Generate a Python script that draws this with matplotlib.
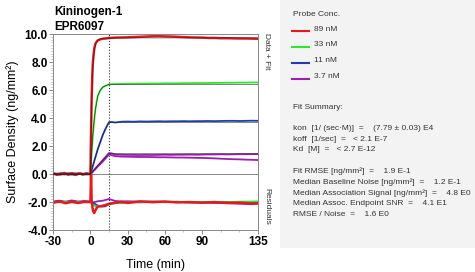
import matplotlib.pyplot as plt
import matplotlib.patches as patches
from matplotlib.ticker import MultipleLocator

plt.rcParams['font.family'] = ['Liberation Sans', 'DejaVu Sans']
plt.rcParams['axes.unicode_minus'] = False

# time grid for the sensorgrams (min)
t = [-30, -27, -24, -21, -18, -15, -12, -9, -6, -3, 0,
     0.5, 1, 1.5, 2, 3, 4, 5, 6, 8, 10, 12, 14, 15,
     17, 20, 25, 30, 35, 40, 45, 50, 55, 60, 65, 70, 75, 80, 85, 90,
     95, 100, 105, 110, 115, 120, 125, 130, 135]

red_89 = [0.05, -0.05, 0.0, 0.08, -0.04, 0.02, -0.06, 0.05, -0.03, 0.04, 0.0,
          3.0, 5.4, 7.0, 8.0, 8.9, 9.3, 9.45, 9.55, 9.62, 9.66, 9.68, 9.7, 9.72,
          9.72, 9.74, 9.75, 9.76, 9.78, 9.8, 9.82, 9.84, 9.85, 9.83, 9.82, 9.8,
          9.78, 9.76, 9.75, 9.74, 9.72, 9.72, 9.7, 9.7, 9.69, 9.68, 9.68, 9.67, 9.66]
green_33 = [0.02, -0.03, 0.04, -0.02, 0.03, -0.04, 0.02, 0.03, -0.02, 0.01, 0.0,
            0.8, 1.5, 2.2, 2.8, 3.8, 4.6, 5.2, 5.6, 6.0, 6.2, 6.3, 6.37, 6.4,
            6.42, 6.43, 6.44, 6.45, 6.45, 6.46, 6.46, 6.47, 6.47, 6.48, 6.48, 6.48,
            6.49, 6.49, 6.5, 6.5, 6.5, 6.51, 6.51, 6.52, 6.52, 6.53, 6.53, 6.54, 6.54]
blue_11 = [0.03, -0.02, 0.02, -0.03, 0.04, -0.02, 0.03, -0.01, 0.02, -0.03, 0.0,
           0.15, 0.3, 0.45, 0.6, 0.9, 1.2, 1.5, 1.8, 2.3, 2.8, 3.2, 3.55, 3.7,
           3.72, 3.68, 3.74, 3.75, 3.74, 3.76, 3.75, 3.76, 3.77, 3.76, 3.77, 3.77,
           3.78, 3.77, 3.78, 3.78, 3.79, 3.78, 3.79, 3.8, 3.8, 3.79, 3.8, 3.81, 3.8]
purple_37a = [0.06, 0.02, 0.07, 0.03, 0.05, 0.08, 0.04, 0.06, 0.03, 0.05, 0.0,
              0.05, 0.1, 0.15, 0.2, 0.3, 0.4, 0.5, 0.6, 0.8, 1.0, 1.2, 1.4, 1.5,
              1.48, 1.4, 1.38, 1.37, 1.37, 1.36, 1.37, 1.36, 1.37, 1.38, 1.37, 1.38,
              1.38, 1.39, 1.38, 1.39, 1.4, 1.4, 1.41, 1.4, 1.41, 1.42, 1.42, 1.42, 1.43]
purple_37b = [-0.02, 0.03, -0.04, 0.01, -0.03, 0.02, -0.05, 0.01, -0.02, 0.02, 0.0,
              0.04, 0.08, 0.12, 0.17, 0.26, 0.35, 0.45, 0.55, 0.72, 0.9, 1.1, 1.3, 1.42,
              1.35, 1.28, 1.25, 1.24, 1.23, 1.22, 1.22, 1.21, 1.2, 1.2, 1.19, 1.18,
              1.18, 1.17, 1.16, 1.15, 1.14, 1.12, 1.1, 1.08, 1.06, 1.05, 1.03, 1.02, 1.0]

# fitted curves
t_fit = [-30, 0, 1, 2, 3, 4, 6, 8, 10, 12, 15, 135]
fit_89 = [0, 0, 5.2, 7.8, 8.8, 9.25, 9.55, 9.65, 9.68, 9.7, 9.72, 9.72]
fit_33 = [0, 0, 1.5, 2.8, 3.8, 4.6, 5.6, 6.0, 6.2, 6.3, 6.4, 6.4]
fit_11 = [0, 0, 0.3, 0.6, 0.9, 1.2, 1.8, 2.3, 2.8, 3.2, 3.7, 3.7]
fit_37 = [0, 0, 0.1, 0.2, 0.3, 0.4, 0.6, 0.8, 1.0, 1.2, 1.45, 1.45]

# residuals, drawn offset at -2
t_res = [-30, -25, -20, -15, -10, -5, 0, 0.5, 1, 2, 3, 4, 5, 6, 8, 10, 12, 15,
         20, 25, 30, 40, 50, 60, 70, 80, 90, 100, 110, 120, 130, 135]
res_89 = [-2.05, -1.95, -2.08, -1.97, -2.06, -1.98, -2.0, 0.0, -1.9, -2.6, -2.78, -2.6,
          -2.42, -2.33, -2.3, -2.26, -2.22, -2.12, -2.05, -1.98, -2.06, -1.95, -2.0,
          -1.96, -2.02, -2.0, -2.04, -2.0, -2.06, -2.04, -2.1, -2.08]
res_33 = [-1.98, -2.03, -1.96, -2.04, -1.99, -2.02, -2.0, -1.7, -2.1, -2.2, -2.25, -2.28,
          -2.3, -2.3, -2.28, -2.25, -2.2, -2.15, -2.08, -2.05, -2.02, -1.98, -2.02,
          -2.0, -1.97, -2.02, -2.0, -1.98, -2.01, -1.97, -1.96, -1.95]
res_11 = [-2.02, -1.97, -2.03, -1.99, -2.04, -1.98, -2.0, -1.95, -2.0, -2.05, -2.1, -2.15,
          -2.2, -2.25, -2.3, -2.32, -2.3, -2.15, -2.02, -2.05, -2.0, -2.02, -1.99,
          -2.01, -1.98, -2.02, -2.0, -2.01, -1.99, -2.0, -2.01, -2.0]
res_37 = [-1.95, -1.9, -1.97, -1.88, -1.96, -1.92, -1.95, -1.98, -2.0, -2.02, -2.0, -1.98,
          -1.96, -1.94, -1.92, -1.9, -1.85, -1.78, -1.92, -1.95, -1.94, -1.97, -1.96,
          -1.98, -2.0, -2.02, -2.04, -2.06, -2.08, -2.12, -2.15, -2.12]

conc_labels = ["89 nM", "33 nM", "11 nM", "3.7 nM"]
conc_colors = ["#e41a1c", "#2ee62e", "#1f3fb0", "#9c1fb0"]

summary_lines = [
    "kon  [1/ (sec\u00b7M)]  =    (7.79 \u00b1 0.03) E4",
    "koff  [1/sec]  =   < 2.1 E-7",
    "Kd  [M]  =   < 2.7 E-12",
    "",
    "Fit RMSE [ng/mm\u00b2]  =    1.9 E-1",
    "Median Baseline Noise [ng/mm\u00b2]  =    1.2 E-1",
    "Median Association Signal [ng/mm\u00b2]  =    4.8 E0",
    "Median Assoc. Endpoint SNR  =    4.1 E1",
    "RMSE / Noise  =    1.6 E0",
]

fig = plt.figure(figsize=(4.75, 2.72), dpi=100)

# grey info panel on the right
fig.patches.append(patches.Rectangle((0.589, 0.088), 0.411, 0.912, transform=fig.transFigure,
                                     facecolor="#f3f3f3", edgecolor="none", zorder=0))

ax = fig.add_axes([0.112, 0.154, 0.431, 0.721])

red, green, blue, purple = conc_colors
ax.axhline(0, color="#888888", lw=0.7, zorder=1)
for yy, c, w in [(purple_37a, purple, 1.3), (purple_37b, purple, 1.3), (blue_11, blue, 1.3),
                 (green_33, green, 1.3), (red_89, red, 1.8)]:
    ax.plot(t, yy, color=c, lw=w, zorder=2)
for fy in [fit_37, fit_11, fit_33, fit_89]:
    ax.plot(t_fit, fy, color="#222222", lw=0.4, zorder=3)
for ry, c, w in [(res_37, purple, 1.3), (res_11, blue, 1.3), (res_33, green, 1.3),
                 (res_89, red, 1.8)]:
    ax.plot(t_res, ry, color=c, lw=w, zorder=2)

ax.axvline(15, color="#333333", lw=0.8, ls=":", zorder=4)

ax.set_xlim(-30, 135)
ax.set_ylim(-4, 10)
ax.set_xticks([-30, 0, 30, 60, 90, 135])
ax.xaxis.set_minor_locator(MultipleLocator(15))
ax.set_yticks([-4, -2, 0, 2, 4, 6, 8, 10])
ax.set_yticklabels(["-4.0", "-2.0", "0.0", "2.0", "4.0", "6.0", "8.0", "10.0"])
ax.yaxis.set_minor_locator(MultipleLocator(0.2))
ax.tick_params(axis="both", which="major", labelsize=8.5, length=3, width=0.6,
               color="#777777", pad=1)
ax.tick_params(axis="both", which="minor", length=1.5, width=0.4, color="#999999")
for lab in ax.get_xticklabels() + ax.get_yticklabels():
    lab.set_fontweight("bold")
for s in ax.spines.values():
    s.set_color("#888888")
    s.set_linewidth(0.7)

ax.set_xlabel("Time (min)", fontsize=9, labelpad=8)
ax.set_ylabel("Surface Density (ng/mm\u00b2)", fontsize=9, labelpad=4)

fig.text(0.114, 0.955, "Kininogen-1", fontsize=8.5, fontweight="bold", va="center")
fig.text(0.114, 0.9, "EPR6097", fontsize=8.5, fontweight="bold", va="center")

fig.text(0.561, 0.81, "Data + Fit", fontsize=6, rotation=270, ha="center", va="center",
         color="#333333")
fig.text(0.561, 0.24, "Residuals", fontsize=6, rotation=270, ha="center", va="center",
         color="#333333")

# legend panel
fig.text(0.617, 0.945, "Probe Conc.", fontsize=6, color="#333333", va="center")
for i, (lab, c) in enumerate(zip(conc_labels, conc_colors)):
    y = 0.893 - i * 0.058
    fig.add_artist(plt.Line2D([0.615, 0.65], [y - 0.008, y - 0.008], transform=fig.transFigure,
                              color=c, lw=1.5))
    fig.text(0.66, y, lab, fontsize=6, color="#333333", va="center")

fig.text(0.617, 0.603, "Fit Summary:", fontsize=6, color="#333333", va="center")
for i, line in enumerate(summary_lines):
    fig.text(0.617, 0.528 - i * 0.0395, line, fontsize=6, color="#333333", va="center")

fig.savefig("out.png", dpi=100)
